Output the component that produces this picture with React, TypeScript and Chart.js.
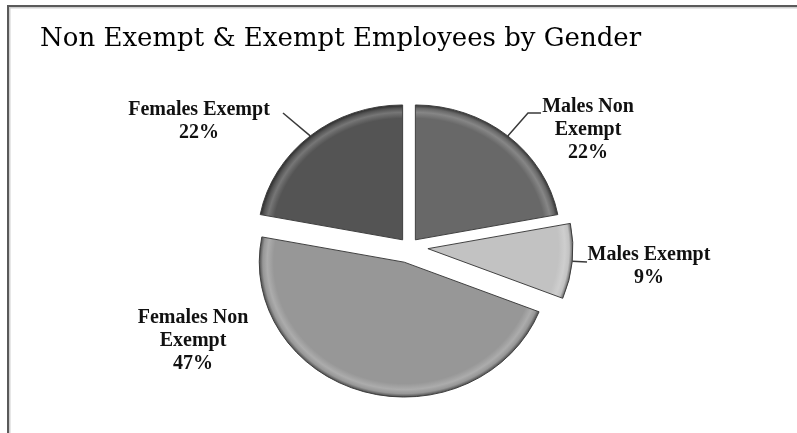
import React, { useEffect, useRef } from "react";
import { Chart, registerables, ArcElement } from "chart.js";

Chart.register(...registerables);

// ---------- data ----------
const TITLE = "Non Exempt & Exempt Employees by Gender";
const CATEGORIES = ["Males Non Exempt", "Males Exempt", "Females Non Exempt", "Females Exempt"];
const VALUES = [22, 9, 47, 22];
const LABEL_LINES = [["Males Non", "Exempt"], ["Males Exempt"], ["Females Non", "Exempt"], ["Females Exempt"]];

// ---------- styles ----------
const COLORS = ["#686868", "#c2c2c2", "#979797", "#545454"];
const EXPLODE = [10, 19, 17, 10];
const RADIUS = 145;
const Y_SCALE = 0.93;
const LABEL_FONT = "bold 20px 'Liberation Serif', 'Times New Roman', serif";
const LABEL_LH = 23;
const TITLE_FONT = "26px 'DejaVu Serif', serif";

// label block centre relative to pie centre, leader line points relative to label centre
const LABEL_POS = [
  { dx: 179, dy: -117, line: [[-60, -17], [-47, -17]] },
  { dx: 240, dy: 19, line: [[-62, -4]] },
  { dx: -216, dy: 94, line: null },
  { dx: -210, dy: -126, line: [[84, -8]] },
];

// explode slices by a plain translation (no radius growth)
const baseArcDraw = (ArcElement.prototype as any).draw;
if (!(ArcElement.prototype as any).__exploded) {
  (ArcElement.prototype as any).__exploded = true;
  (ArcElement.prototype as any).draw = function (ctx: CanvasRenderingContext2D) {
    const saved = this.options || {};
    const push = saved.offset || 0;
    if (!push) return baseArcDraw.call(this, ctx);
    const half = (this.startAngle + this.endAngle) / 2;
    ctx.save();
    ctx.translate(Math.cos(half) * push, Math.sin(half) * push);
    this.options = { ...saved, offset: 0 };
    try {
      baseArcDraw.call(this, ctx);
    } finally {
      this.options = saved;
      ctx.restore();
    }
  };
}

function mix(hex: string, target: number, amt: number) {
  const n = parseInt(hex.slice(1), 16);
  const r = (n >> 16) & 255, g = (n >> 8) & 255, b = n & 255;
  const f = (c: number) => Math.round(c + (target - c) * amt);
  return `rgb(${f(r)},${f(g)},${f(b)})`;
}

const decorations = {
  id: "decorations",
  beforeDraw(chart: any) {
    const { ctx, width, height } = chart;
    ctx.save();
    ctx.fillStyle = "#ffffff";
    ctx.fillRect(0, 0, width, height);
    ctx.fillStyle = "#5a5a5a";
    ctx.fillRect(7, 5, width - 7, 2);
    ctx.fillRect(7, 5, 2, height - 5);
    ctx.fillStyle = "#cfcfcf";
    ctx.fillRect(9, 7, width - 9, 1.5);
    ctx.fillRect(9, 7, 1.5, height - 7);
    ctx.fillStyle = "#000000";
    ctx.font = TITLE_FONT;
    ctx.textAlign = "left";
    ctx.textBaseline = "alphabetic";
    ctx.fillText(TITLE, 40, 46);
    ctx.restore();
  },
  beforeDatasetsDraw(chart: any) {
    const { ctx, chartArea: a } = chart;
    const cx = (a.left + a.right) / 2, cy = (a.top + a.bottom) / 2;
    ctx.save();
    ctx.translate(cx, cy);
    ctx.scale(1, Y_SCALE);
    ctx.translate(-cx, -cy);
  },
  afterDatasetsDraw(chart: any) {
    chart.ctx.restore();
  },
  afterDraw(chart: any) {
    const { ctx, chartArea: a } = chart;
    const cx = (a.left + a.right) / 2, cy = (a.top + a.bottom) / 2;
    const total = VALUES.reduce((s, v) => s + v, 0);
    const meta = chart.getDatasetMeta(0);
    ctx.save();
    ctx.strokeStyle = "#3a3a3a";
    ctx.lineWidth = 1.5;
    ctx.fillStyle = "#111111";
    ctx.font = LABEL_FONT;
    ctx.textAlign = "center";
    ctx.textBaseline = "middle";
    meta.data.forEach((arc: any, i: number) => {
      const p = arc.getProps(["startAngle", "endAngle", "outerRadius"], true);
      const mid = (p.startAngle + p.endAngle) / 2;
      const off = (arc.options && arc.options.offset) || 0;
      const ex = cx + Math.cos(mid) * (p.outerRadius + off);
      const ey = cy + Math.sin(mid) * (p.outerRadius + off) * Y_SCALE;
      const pos = LABEL_POS[i];
      const lx = cx + pos.dx, ly = cy + pos.dy;
      if (pos.line) {
        ctx.beginPath();
        ctx.moveTo(ex, ey);
        pos.line.forEach(([x, y]) => ctx.lineTo(lx + x, ly + y));
        ctx.stroke();
      }
      const lines = [...LABEL_LINES[i], Math.round((VALUES[i] / total) * 100) + "%"];
      const top = ly - ((lines.length - 1) * LABEL_LH) / 2;
      lines.forEach((t, k) => ctx.fillText(t, lx, top + k * LABEL_LH));
    });
    ctx.restore();
  },
};

export default function App() {
  const ref = useRef<HTMLCanvasElement | null>(null);
  useEffect(() => {
    if (!ref.current) return;
    const chart = new Chart(ref.current, {
      type: "pie",
      data: {
        labels: CATEGORIES,
        datasets: [
          {
            data: VALUES,
            offset: EXPLODE,
            borderColor: "#3c3c3c",
            borderWidth: 1,
            backgroundColor: (c: any) => {
              const base = COLORS[c.dataIndex ?? 0];
              const a = c.chart.chartArea;
              if (!a) return base;
              const cx = (a.left + a.right) / 2, cy = (a.top + a.bottom) / 2;
              const g = c.chart.ctx.createRadialGradient(cx, cy, 0, cx, cy, RADIUS);
              g.addColorStop(0, base);
              g.addColorStop(0.9, base);
              g.addColorStop(0.945, mix(base, 255, 0.2));
              g.addColorStop(0.975, base);
              g.addColorStop(1, mix(base, 0, 0.5));
              return g;
            },
          } as any,
        ],
      },
      options: {
        responsive: false,
        devicePixelRatio: 1,
        animation: false,
        events: [],
        radius: RADIUS,
        layout: { padding: { left: 110, right: 89, top: 90, bottom: 29 } },
        plugins: {
          legend: { display: false },
          title: { display: false },
          tooltip: { enabled: false },
        },
      } as any,
      plugins: [decorations],
    });
    return () => chart.destroy();
  }, []);
  return (
    <div style={{ position: "fixed", left: 0, top: 0, width: 797, height: 433, background: "#fff" }}>
      <canvas ref={ref} width={797} height={433} style={{ display: "block" }} />
    </div>
  );
}
